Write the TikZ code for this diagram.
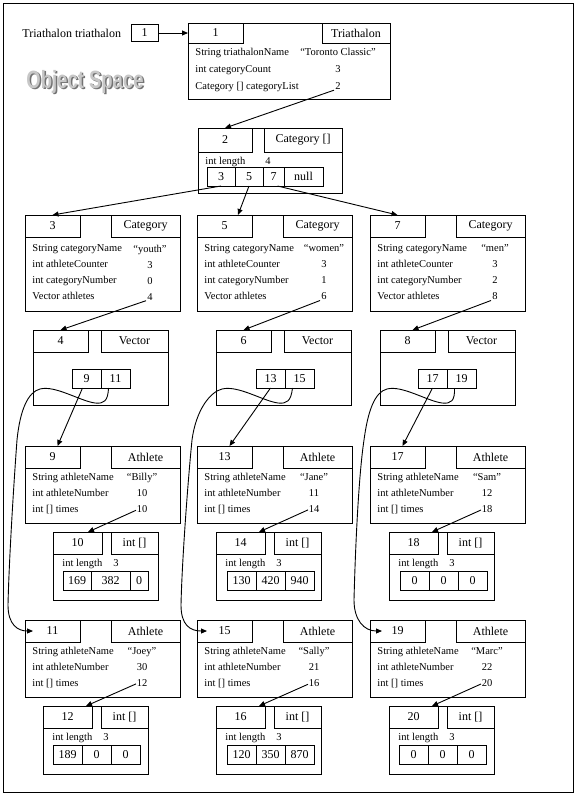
\documentclass[tikz,border=0pt]{standalone}
\usepackage{fontspec}
\setmainfont{Liberation Serif}
\newfontfamily\wordart{Liberation Sans}
\usepackage{graphicx}
\usepackage{tikz}
\usetikzlibrary{arrows.meta, positioning}
\newcommand{\hdfont}{\fontsize{12}{13}\selectfont}
\newcommand{\fldfont}{\fontsize{10.5}{16}\selectfont}
\newcommand{\trifont}{\fontsize{10.5}{17}\selectfont}
\newcommand{\osfont}{\wordart\bfseries\fontsize{18.5}{19}\selectfont}
\tikzset{%
	obj/.style={draw, rectangle, anchor=north west, inner sep=0mm, outer sep=0mm},
	tribox/.style={obj, minimum width=202pt, minimum height=76pt},
	arrbox/.style={obj, minimum width=144pt, minimum height=65pt},
	catbox/.style={obj, minimum width=155pt, minimum height=96pt},
	vecbox/.style={obj, minimum width=135pt, minimum height=75pt},
	athbox/.style={obj, minimum width=155pt, minimum height=77pt},
	intbox/.style={obj, minimum width=105pt, minimum height=68pt},
	idbox/.style={obj, minimum height=22pt, minimum width=55pt, font=\hdfont},
	typebox/.style={obj, anchor=north east, minimum height=22pt, minimum width=69pt, font=\hdfont},
	fields/.style={anchor=north west, inner sep=0mm, align=left, font=\fldfont},
	vals/.style={anchor=north, inner sep=0mm, align=center, font=\fldfont},
	cell/.style={obj, minimum height=19pt, minimum width=29pt, font=\hdfont},
	sel/.style={-{Triangle[length=6pt, width=5pt]}}
}
\begin{document}
\begin{tikzpicture}[x=1pt, y=-1pt, line width=0.9pt]
	\useasboundingbox (0,0) rectangle (575,795);
	\node[obj, minimum width=570pt, minimum height=789pt] (space) at (3,3) {};
	\node[anchor=west, inner sep=0mm, font=\hdfont] (tri-var) at (22,33) {Triathalon triathalon};
	\node[obj, anchor=center, minimum width=27pt, minimum height=17pt, font=\hdfont] (tri-ref) at (144.5,33) {1};
	\node[font=\osfont, text=black!55] (os-shade) at (86.5,83.5) {\scalebox{1}[1.35]{Object Space}};
	\node[font=\osfont, text=black!22] (os) at (85,82) {\scalebox{1}[1.35]{Object Space}};

	\node[tribox] (tri) at (188,23) {};
	\node[idbox, minimum height=20pt] (tri-id) at (tri.north west) {1};
	\node[typebox, minimum height=20pt, minimum width=68pt] (tri-ty) at (tri.north east) {Triathalon};
	\node[fields, font=\trifont] (tri-f) at ([shift={(7pt,-5pt)}]tri-id.south west) {String triathalonName\\int categoryCount\\Category [] categoryList};
	\node[vals, font=\trifont] (tri-v) at ([shift={(150pt,-5pt)}]tri-id.south west) {“Toronto Classic”\\3\\2};

	\node[arrbox] (arr) at (198,128) {};
	\node[idbox, minimum height=24pt, minimum width=54pt] (arr-id) at (arr.north west) {2};
	\node[typebox, minimum height=24pt, minimum width=78pt] (arr-ty) at (arr.north east) {Category []};
	\node[fields] (arr-f) at ([shift={(7pt,-5pt)}]arr-id.south west) {int length};
	\node[vals] (arr-v) at ([shift={(70pt,-5pt)}]arr-id.south west) {4};
	\node[cell, minimum width=28pt] (arr-a) at (207,167) {3};
	\node[cell, minimum width=28pt, right=0pt of arr-a] (arr-b) {5};
	\node[cell, minimum width=21pt, right=0pt of arr-b] (arr-c) {7};
	\node[cell, minimum width=39pt, right=0pt of arr-c] (arr-d) {null};

	\node[catbox] (c3) at (25,215) {};
	\node[idbox] (c3-id) at (c3.north west) {3};
	\node[typebox] (c3-ty) at (c3.north east) {Category};
	\node[fields] (c3-f) at ([shift={(7pt,-7.5pt)}]c3-id.south west) {String categoryName\\int athleteCounter\\int categoryNumber\\Vector athletes};
	\node[vals] (c3-v) at ([shift={(125pt,-7.5pt)}]c3-id.south west) {“youth”\\3\\0\\4};
	\node[catbox] (c5) at (197,215) {};
	\node[idbox] (c5-id) at (c5.north west) {5};
	\node[typebox] (c5-ty) at (c5.north east) {Category};
	\node[fields] (c5-f) at ([shift={(7pt,-7.5pt)}]c5-id.south west) {String categoryName\\int athleteCounter\\int categoryNumber\\Vector athletes};
	\node[vals] (c5-v) at ([shift={(127pt,-7.5pt)}]c5-id.south west) {“women”\\3\\1\\6};
	\node[catbox] (c7) at (370,215) {};
	\node[idbox] (c7-id) at (c7.north west) {7};
	\node[typebox] (c7-ty) at (c7.north east) {Category};
	\node[fields] (c7-f) at ([shift={(7pt,-7.5pt)}]c7-id.south west) {String categoryName\\int athleteCounter\\int categoryNumber\\Vector athletes};
	\node[vals] (c7-v) at ([shift={(125pt,-7.5pt)}]c7-id.south west) {“men”\\3\\2\\8};

	\node[vecbox] (v4) at (33,330) {};
	\node[idbox] (v4-id) at (v4.north west) {4};
	\node[typebox, minimum width=67pt] (v4-ty) at (v4.north east) {Vector};
	\node[cell] (v4-a) at (72,369) {9};
	\node[cell, right=0pt of v4-a] (v4-b) {11};
	\node[vecbox] (v6) at (216,330) {};
	\node[idbox] (v6-id) at (v6.north west) {6};
	\node[typebox, minimum width=67pt] (v6-ty) at (v6.north east) {Vector};
	\node[cell] (v6-a) at (256,369) {13};
	\node[cell, right=0pt of v6-a] (v6-b) {15};
	\node[vecbox] (v8) at (380,330) {};
	\node[idbox] (v8-id) at (v8.north west) {8};
	\node[typebox, minimum width=67pt] (v8-ty) at (v8.north east) {Vector};
	\node[cell] (v8-a) at (418,369) {17};
	\node[cell, right=0pt of v8-a] (v8-b) {19};

	\node[athbox] (a9) at (25,446) {};
	\node[idbox] (a9-id) at (a9.north west) {9};
	\node[typebox] (a9-ty) at (a9.north east) {Athlete};
	\node[fields] (a9-f) at ([shift={(7pt,-5pt)}]a9-id.south west) {String athleteName\\int athleteNumber\\int [] times};
	\node[vals] (a9-v) at ([shift={(117pt,-5pt)}]a9-id.south west) {“Billy”\\10\\10};
	\node[athbox] (a13) at (197,446) {};
	\node[idbox] (a13-id) at (a13.north west) {13};
	\node[typebox] (a13-ty) at (a13.north east) {Athlete};
	\node[fields] (a13-f) at ([shift={(7pt,-5pt)}]a13-id.south west) {String athleteName\\int athleteNumber\\int [] times};
	\node[vals] (a13-v) at ([shift={(117pt,-5pt)}]a13-id.south west) {“Jane”\\11\\14};
	\node[athbox] (a17) at (370,446) {};
	\node[idbox] (a17-id) at (a17.north west) {17};
	\node[typebox] (a17-ty) at (a17.north east) {Athlete};
	\node[fields] (a17-f) at ([shift={(7pt,-5pt)}]a17-id.south west) {String athleteName\\int athleteNumber\\int [] times};
	\node[vals] (a17-v) at ([shift={(117pt,-5pt)}]a17-id.south west) {“Sam”\\12\\18};

	\node[intbox] (i10) at (53,532) {};
	\node[idbox, minimum width=49pt] (i10-id) at (i10.north west) {10};
	\node[typebox, minimum width=47pt] (i10-ty) at (i10.north east) {int []};
	\node[fields] (i10-f) at ([shift={(9pt,-5pt)}]i10-id.south west) {int length};
	\node[vals] (i10-v) at ([shift={(63pt,-5pt)}]i10-id.south west) {3};
	\node[cell, minimum width=28pt] (i10-a) at (63,571) {169};
	\node[cell, minimum width=39pt, right=0pt of i10-a] (i10-b) {382};
	\node[cell, minimum width=18pt, right=0pt of i10-b] (i10-c) {0};
	\node[intbox] (i14) at (216,532) {};
	\node[idbox, minimum width=49pt] (i14-id) at (i14.north west) {14};
	\node[typebox, minimum width=47pt] (i14-ty) at (i14.north east) {int []};
	\node[fields] (i14-f) at ([shift={(9pt,-5pt)}]i14-id.south west) {int length};
	\node[vals] (i14-v) at ([shift={(63pt,-5pt)}]i14-id.south west) {3};
	\node[cell] (i14-a) at (227,571) {130};
	\node[cell, right=0pt of i14-a] (i14-b) {420};
	\node[cell, right=0pt of i14-b] (i14-c) {940};
	\node[intbox] (i18) at (389,532) {};
	\node[idbox, minimum width=49pt] (i18-id) at (i18.north west) {18};
	\node[typebox, minimum width=47pt] (i18-ty) at (i18.north east) {int []};
	\node[fields] (i18-f) at ([shift={(9pt,-5pt)}]i18-id.south west) {int length};
	\node[vals] (i18-v) at ([shift={(63pt,-5pt)}]i18-id.south west) {3};
	\node[cell] (i18-a) at (400,571) {0};
	\node[cell, right=0pt of i18-a] (i18-b) {0};
	\node[cell, right=0pt of i18-b] (i18-c) {0};

	\node[athbox] (a11) at (25,620) {};
	\node[idbox] (a11-id) at (a11.north west) {11};
	\node[typebox] (a11-ty) at (a11.north east) {Athlete};
	\node[fields] (a11-f) at ([shift={(7pt,-5pt)}]a11-id.south west) {String athleteName\\int athleteNumber\\int [] times};
	\node[vals] (a11-v) at ([shift={(117pt,-5pt)}]a11-id.south west) {“Joey”\\30\\12};
	\node[athbox] (a15) at (197,620) {};
	\node[idbox] (a15-id) at (a15.north west) {15};
	\node[typebox] (a15-ty) at (a15.north east) {Athlete};
	\node[fields] (a15-f) at ([shift={(7pt,-5pt)}]a15-id.south west) {String athleteName\\int athleteNumber\\int [] times};
	\node[vals] (a15-v) at ([shift={(117pt,-5pt)}]a15-id.south west) {“Sally”\\21\\16};
	\node[athbox] (a19) at (370,620) {};
	\node[idbox] (a19-id) at (a19.north west) {19};
	\node[typebox] (a19-ty) at (a19.north east) {Athlete};
	\node[fields] (a19-f) at ([shift={(7pt,-5pt)}]a19-id.south west) {String athleteName\\int athleteNumber\\int [] times};
	\node[vals] (a19-v) at ([shift={(117pt,-5pt)}]a19-id.south west) {“Marc”\\22\\20};

	\node[intbox] (i12) at (43,706) {};
	\node[idbox, minimum width=49pt] (i12-id) at (i12.north west) {12};
	\node[typebox, minimum width=47pt] (i12-ty) at (i12.north east) {int []};
	\node[fields] (i12-f) at ([shift={(9pt,-5pt)}]i12-id.south west) {int length};
	\node[vals] (i12-v) at ([shift={(63pt,-5pt)}]i12-id.south west) {3};
	\node[cell] (i12-a) at (53,745) {189};
	\node[cell, right=0pt of i12-a] (i12-b) {0};
	\node[cell, right=0pt of i12-b] (i12-c) {0};
	\node[intbox] (i16) at (216,706) {};
	\node[idbox, minimum width=49pt] (i16-id) at (i16.north west) {16};
	\node[typebox, minimum width=47pt] (i16-ty) at (i16.north east) {int []};
	\node[fields] (i16-f) at ([shift={(9pt,-5pt)}]i16-id.south west) {int length};
	\node[vals] (i16-v) at ([shift={(63pt,-5pt)}]i16-id.south west) {3};
	\node[cell] (i16-a) at (227,745) {120};
	\node[cell, right=0pt of i16-a] (i16-b) {350};
	\node[cell, right=0pt of i16-b] (i16-c) {870};
	\node[intbox] (i20) at (389,706) {};
	\node[idbox, minimum width=49pt] (i20-id) at (i20.north west) {20};
	\node[typebox, minimum width=47pt] (i20-ty) at (i20.north east) {int []};
	\node[fields] (i20-f) at ([shift={(9pt,-5pt)}]i20-id.south west) {int length};
	\node[vals] (i20-v) at ([shift={(63pt,-5pt)}]i20-id.south west) {3};
	\node[cell] (i20-a) at (399,745) {0};
	\node[cell, right=0pt of i20-a] (i20-b) {0};
	\node[cell, right=0pt of i20-b] (i20-c) {0};

	\draw[sel] (tri-ref.east) -- (tri-id.west);
	\draw[sel] ([xshift=-4pt]tri-v.south) -- (arr-id.north);
	\draw[sel] (arr-a.south) -- (c3-id.north);
	\draw[sel] (arr-b.south) -- ([xshift=-14pt]c5-id.north east);
	\draw[sel] ([xshift=4pt]arr-c.south) -- (c7-id.north);
	\draw[sel] ([xshift=-4pt]c3-v.south) -- (v4-id.north);
	\draw[sel] ([xshift=-4pt]c5-v.south) -- (v6-id.north);
	\draw[sel] ([xshift=-4pt]c7-v.south) -- ([xshift=5pt]v8-id.north);
	\draw[sel] ([xshift=-4pt]v4-a.south) -- ([xshift=5pt]a9-id.north);
	\draw[sel] (v6-a.south) -- ([xshift=5pt]a13-id.north);
	\draw[sel] (v8-a.south) -- ([xshift=5pt]a17-id.north);
	\draw[sel] ([xshift=-7pt]v4-b.south) .. controls (108,401) and (104,404) .. (95,403)
		.. controls (80,401) and (55,385) .. (40,389) .. controls (28,392) and (20,410) .. (17,440)
		.. controls (14,480) and (9,560) .. (8,605) .. controls (8,625) and (18,631) .. ([xshift=8pt]a11-id.west);
	\draw[sel] ([xshift=-7pt]v6-b.south) .. controls (291,401) and (287,404) .. (278,403)
		.. controls (263,401) and (238,385) .. (222,389) .. controls (210,392) and (196,410) .. (192,440)
		.. controls (188,480) and (182,560) .. (181,605) .. controls (181,625) and (190,631) .. ([xshift=10pt]a15-id.west);
	\draw[sel] ([xshift=-7pt]v8-b.south) .. controls (455,401) and (451,404) .. (442,403)
		.. controls (427,401) and (402,385) .. (387,389) .. controls (375,392) and (368,410) .. (364,440)
		.. controls (358,480) and (355,560) .. (354,600) .. controls (354,620) and (364,631) .. ([xshift=12pt]a19-id.west);
	\draw[sel] ([shift={(-6pt,3pt)}]a9-v.south) -- ([xshift=-14pt]i10-id.north east);
	\draw[sel] ([shift={(-6pt,3pt)}]a13-v.south) -- ([xshift=-6pt]i14-id.north east);
	\draw[sel] ([shift={(-6pt,3pt)}]a17-v.south) -- ([xshift=-6pt]i18-id.north east);
	\draw[sel] ([shift={(-6pt,3pt)}]a11-v.south) -- ([xshift=-6pt]i12-id.north east);
	\draw[sel] ([shift={(-6pt,3pt)}]a15-v.south) -- ([xshift=-6pt]i16-id.north east);
	\draw[sel] ([shift={(-6pt,3pt)}]a19-v.south) -- ([xshift=-6pt]i20-id.north east);
\end{tikzpicture}
\end{document}
